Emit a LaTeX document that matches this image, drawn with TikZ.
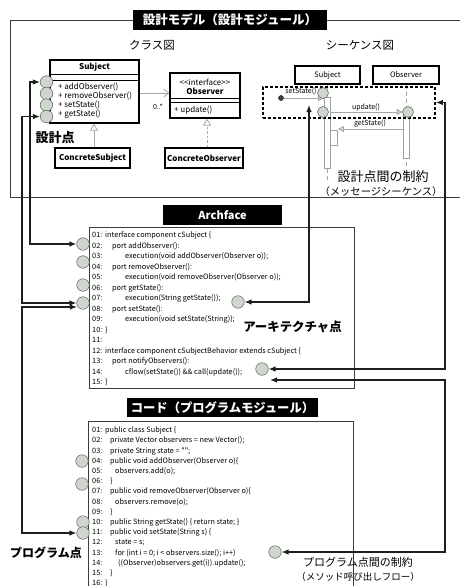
\documentclass[tikz,border=0pt]{standalone}
\usepackage{fontspec}
\setmainfont{Noto Sans CJK JP}[Ligatures=TeXOff]
\usetikzlibrary{arrows.meta}
\definecolor{ptfill}{RGB}{210,212,208}
\definecolor{ptdraw}{RGB}{90,125,95}
\definecolor{lnk}{RGB}{30,30,30}
\definecolor{boxln}{RGB}{60,60,60}
\tikzset{
  ptc/.style={circle,draw=ptdraw,fill=ptfill,line width=0.6pt,minimum size=12.5pt,inner sep=0pt},
  ptcs/.style={ptc,minimum size=11pt},
  link/.style={draw=lnk,line width=1.2pt,{Latex[length=7pt,width=5.5pt]}-{Latex[length=7pt,width=5.5pt]}},
  titlebox/.style={fill=black,text=white,font=\fontsize{12.5}{14}\selectfont\bfseries,inner sep=0pt},
  codebox/.style={draw=boxln,line width=0.7pt,fill=white},
  code/.style={font=\fontsize{7.3}{8}\selectfont,inner sep=0pt,anchor=base west},
  umlbox/.style={draw=black,line width=1.2pt,fill=white,inner sep=0pt},
  umltxt/.style={font=\fontsize{8}{9}\selectfont,inner sep=0pt},
  umlbold/.style={font=\fontsize{8}{9}\selectfont\bfseries,inner sep=0pt},
  bigl/.style={font=\fontsize{12.5}{14}\selectfont\bfseries,inner sep=0pt},
  capl/.style={font=\fontsize{11.5}{13}\selectfont,inner sep=0pt},
  lifeline/.style={draw=gray!70,line width=0.8pt,dash pattern=on 4pt off 3pt},
  actbar/.style={draw=gray!75,fill=white,line width=0.7pt,inner sep=0pt},
  msg/.style={draw=gray!70,line width=0.8pt,-{Triangle[length=6pt,width=6pt,fill=gray!35]}},
  msgtxt/.style={font=\fontsize{7}{8}\selectfont,inner sep=0pt},
}
\begin{document}
\begin{tikzpicture}[x=1pt,y=-1pt]
\useasboundingbox (0,0) rectangle (460,586);
\fill[white] (0,0) rectangle (460,586);

% ---------- design module frame ----------
\draw[draw=boxln,line width=0.8pt] (320,20) -- (463,20) -- (463,197) -- (10,197) -- (10,20) -- (140,20);
\node[titlebox,minimum width=194pt,minimum height=20pt] (dtitle) at (230,20) {設計モデル（設計モジュール）};

\node[capl] (clslbl) at (152,45) {クラス図};
\node[capl] (seqlbl) at (360,45) {シーケンス図};

% class Subject
\node[umlbox,minimum width=89pt,minimum height=63pt] (subj) at (94.5,91.5) {};
\draw[line width=0.8pt] (subj.west |- 0,74) -- (subj.east |- 0,74);
\draw[line width=0.8pt] (subj.west |- 0,80) -- (subj.east |- 0,80);
\node[umlbold] (subjt) at (94.5,67) {Subject};
\node[umltxt,anchor=west] (m1) at (58,87) {+ addObserver()};
\node[umltxt,anchor=west] (m2) at (58,96.5) {+ removeObserver()};
\node[umltxt,anchor=west] (m3) at (58,105.5) {+ setState()};
\node[umltxt,anchor=west] (m4) at (58,114) {+ getState()};

% class Observer
\node[umlbox,minimum width=70pt,minimum height=45pt] (obs) at (205,95.5) {};
\draw[line width=0.8pt] (obs.west |- 0,98) -- (obs.east |- 0,98);
\draw[line width=0.8pt] (obs.west |- 0,102) -- (obs.east |- 0,102);
\node[umltxt] (obsst) at (205,82) {<{}<interface>{}>};
\node[umlbold] (obst) at (205,91) {Observer};
\node[umltxt,anchor=west] (om1) at (174,110) {+ update()};

% concrete classes
\node[umlbox,minimum width=75pt,minimum height=20pt,font=\fontsize{8}{9}\selectfont\bfseries] (csubj) at (92.5,158) {ConcreteSubject};
\node[umlbox,minimum width=78pt,minimum height=20pt,font=\fontsize{8}{9}\selectfont\bfseries] (cobs) at (204,158) {ConcreteObserver};

\draw[draw=gray!70,line width=0.8pt,-{Triangle[open,length=7pt,width=8pt,fill=white]}] ([xshift=1.5pt]csubj.north) -- ([xshift=1.5pt]csubj.north |- subj.south);
\draw[draw=gray!70,line width=0.8pt,dash pattern=on 2.5pt off 2pt,-{Triangle[open,length=7pt,width=8pt,fill=white]}] ([xshift=3pt]cobs.north) -- ([xshift=3pt]cobs.north |- obs.south);
\draw[draw=gray!70,line width=0.8pt,-{Straight Barb[length=5pt,width=8pt]}] (subj.east |- 0,93) -- (obs.west |- 0,93);
\node[msgtxt] (mult) at (158,107) {0..*};

% design points (class)
\node[ptc] (d1) at (46.5,82) {};
\node[ptc] (d2) at (46.5,93.5) {};
\node[ptc] (d3) at (46.5,105) {};
\node[ptc] (d4) at (46.5,116.5) {};
\node[bigl,font=\fontsize{13}{15}\selectfont\bfseries] (dplbl) at (55,138) {設計点};

% ---------- sequence diagram ----------
\node[umlbox,minimum width=65pt,minimum height=18pt,font=\fontsize{7.5}{9}\selectfont] (ssubj) at (327.5,75) {Subject};
\node[umlbox,minimum width=66pt,minimum height=18pt,font=\fontsize{7.5}{9}\selectfont] (sobs) at (406,75) {Observer};
\draw[lifeline] (ssubj.south) -- ++(0,98);
\draw[lifeline] (sobs.south) -- ++(0,82);
\node[actbar,minimum width=6pt,minimum height=71pt] (sbar) at (327.5,132.5) {};
\node[actbar,minimum width=7pt,minimum height=15pt] (nbar) at (334,137.5) {};
\node[actbar,minimum width=6pt,minimum height=46pt] (obar) at (406,135) {};

\node[draw=black,line width=1.8pt,dash pattern=on 3pt off 2pt,minimum width=172pt,minimum height=31pt,inner sep=0pt] (seqbox) at (349,102.5) {};

\node[circle,fill=black!75,draw=black,inner sep=0pt,minimum size=5pt] (dot) at (281,98) {};
\draw[msg] (dot) -- (sbar.west |- dot);
\node[msgtxt] (setl) at (301,91) {setState()};
\node[ptcs] (s1) at (323,93) {};
\node[ptcs] (s2) at (323,112) {};
\draw[msg] (sbar.east |- s2) -- (obar.west |- s2);
\node[msgtxt] (updl) at (366,107) {update()};
\draw[msg] (obar.west |- 0,129) -- (nbar.east |- 0,129);
\node[msgtxt] (getl) at (370,124) {getState()};
\node[ptcs] (s3) at (408,112) {};

\node[font=\fontsize{13}{15}\selectfont,inner sep=0pt] (seqc1) at (383,177) {設計点間の制約};
\node[font=\fontsize{10.3}{12}\selectfont,inner sep=0pt] (seqc2) at (381,192) {（メッセージシーケンス）};

% ---------- Archface ----------
\node[titlebox,font=\fontsize{11}{13}\selectfont\bfseries,minimum width=119pt,minimum height=20pt] (atitle) at (222.5,215) {Archface};
\node[codebox,minimum width=265pt,minimum height=161pt] (abox) at (221.5,307.5) {};
\foreach \t/\xx [count=\i] in {
 {interface component cSubject \{}/105,
 {port addObserver():}/112,
 {execution(void addObserver(Observer o));}/125,
 {port removeObserver():}/112,
 {execution(void removeObserver(Observer o));}/125,
 {port getState():}/112,
 {execution(String getState());}/125,
 {port setState():}/112,
 {execution(void setState(String));}/125,
 {\}}/105,
 {}/105,
 {interface component cSubjectBehavior extends cSubject \{}/105,
 {port notifyObservers():}/112,
 {cflow(setState()) \&\& call(update());}/125,
 {\}}/105}{
  \pgfmathsetmacro\yy{235+(\i-1)*10.5+2.6}
  \node[code] (afn\i) at (92,\yy) {\ifnum\i<10 0\fi\i:};
  \node[code] (aft\i) at (\xx,\yy) {\t};
}
\node[ptc] (a1) at (83,244) {};
\node[ptc] (a2) at (83,262) {};
\node[ptc] (a3) at (83,285) {};
\node[ptc] (a4) at (83,303) {};
\node[ptc] (a5) at (238,302) {};
\node[ptc] (a6) at (262,369) {};
\node[bigl,font=\fontsize{12.4}{14}\selectfont\bfseries] (aplbl) at (292.5,327) {アーキテクチャ点};

% ---------- Code ----------
\node[titlebox,font=\fontsize{12.3}{14}\selectfont\bfseries,minimum width=191pt,minimum height=19pt] (ctitle) at (222.5,407.5) {コード（プログラムモジュール）};
\node[codebox,minimum width=265pt,minimum height=170pt] (pbox) at (220.5,506) {};
\foreach \t/\xx [count=\i] in {
 {public class Subject \{}/105,
 {private Vector observers = new Vector();}/110,
 {private String state = "";}/110,
 {public void addObserver(Observer o)\{}/110,
 {observers.add(o);}/115,
 {\}}/110,
 {public void removeObserver(Observer o)\{}/110,
 {observers.remove(o);}/115,
 {\}}/110,
 {public String getState() \{ return state; \}}/110,
 {public void setState(String s) \{}/110,
 {state = s;}/115,
 {for (int i = 0; i < observers.size(); i++)}/115,
 {((Observer)observers.get(i)).update();}/118,
 {\}}/110,
 {\}}/105}{
  \pgfmathsetmacro\yy{430+(\i-1)*10.2+2.6}
  \node[code] (pgn\i) at (92,\yy) {\ifnum\i<10 0\fi\i:};
  \node[code] (pgt\i) at (\xx,\yy) {\t};
}
\node[ptc] (p1) at (82,461) {};
\node[ptc] (p2) at (82,484) {};
\node[ptc] (p3) at (83,522) {};
\node[ptc] (p4) at (83,533) {};
\node[ptc] (p5) at (275,552) {};
\node[bigl,font=\fontsize{12}{14}\selectfont\bfseries] (pplbl) at (46,553) {プログラム点};
\node[font=\fontsize{11}{13}\selectfont,inner sep=0pt] (pc1) at (358,562) {プログラム点間の制約};
\node[font=\fontsize{9.5}{11}\selectfont,inner sep=0pt] (pc2) at (358,577) {（メソッド呼び出しフロー）};

% ---------- connectors ----------
\coordinate (xL1) at (30,0);
\coordinate (xL2) at (22,0);
\coordinate (xR) at (445,0);
\coordinate (aStub) at (77,307);
\coordinate (aStub2) at (270,380);
\coordinate (seqIn) at (309,105);
\draw[link] (d1.west) -- (d1.west -| xL1) |- (a1.west);
\draw[link] (d4.west) -- (d4.west -| xL2) |- (a4.west);
\draw[link] (aStub) -- (aStub -| xL2) |- (p4.west);
\draw[link] (seqIn) |- (a5.east);
\draw[link] (seqbox.east) -- (seqbox.east -| xR) |- (a6.east);
\draw[link] (aStub2) -- (aStub2 -| xR) |- (p5.east);
\end{tikzpicture}
\end{document}
